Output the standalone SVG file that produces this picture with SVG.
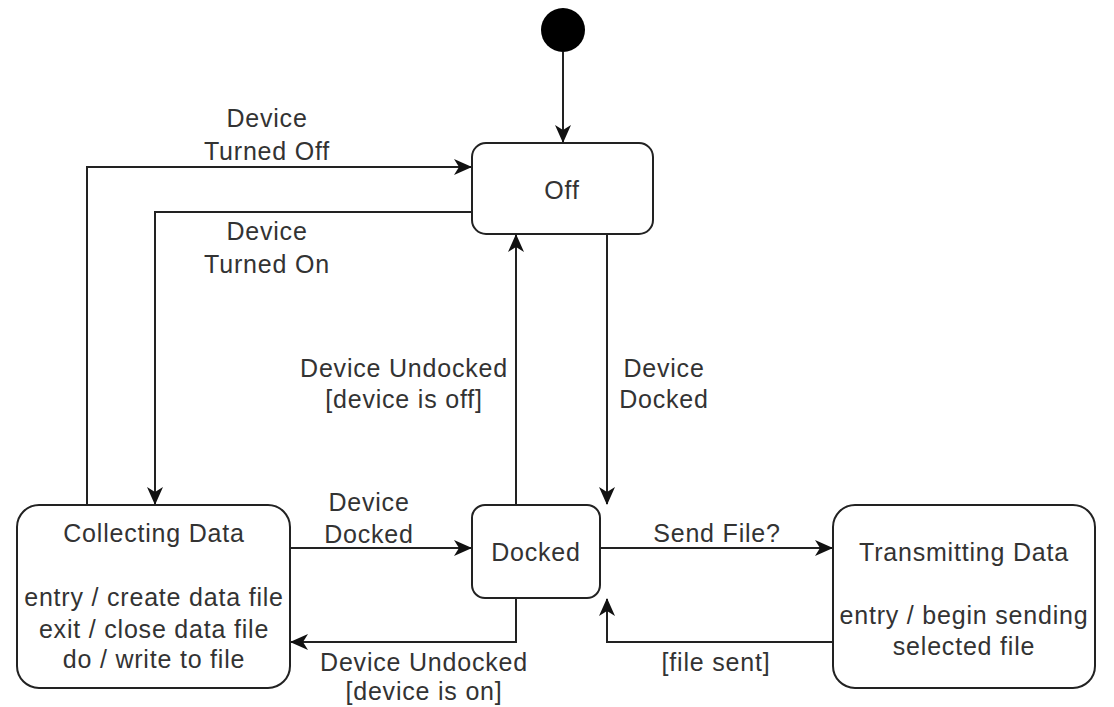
<svg xmlns="http://www.w3.org/2000/svg" width="1114" height="707" viewBox="0 0 1114 707">
  <style>
    .state { fill: #ffffff; stroke: #222222; stroke-width: 2; }
    .edge { fill: none; stroke: #222222; stroke-width: 2; }
    text { font-family: "Liberation Sans", Arial, sans-serif; font-size: 25px; letter-spacing: 0.8px; fill: #333333; text-anchor: middle; }
  </style>
  <defs>
    <marker id="arrow" viewBox="0 0 18 16" refX="17" refY="8" markerWidth="18" markerHeight="16" markerUnits="userSpaceOnUse" orient="auto">
      <path d="M0,0 L18,8 L0,16 L5,8 Z" fill="#111111"/>
    </marker>
  </defs>
  <rect width="1114" height="707" fill="#ffffff"/>

  <g id="connectors">
    <!-- initial -> Off -->
    <path class="edge" d="M563,52 L563,142" marker-end="url(#arrow)"/>
    <!-- Collecting Data -> Off -->
    <path class="edge" d="M87,505 L87,167 L471,167" marker-end="url(#arrow)"/>
    <!-- Off -> Collecting Data -->
    <path class="edge" d="M472,212 L155,212 L155,504" marker-end="url(#arrow)"/>
    <!-- Off -> Docked -->
    <path class="edge" d="M607,234 L607,504" marker-end="url(#arrow)"/>
    <!-- Docked -> Off -->
    <path class="edge" d="M516,505 L516,235" marker-end="url(#arrow)"/>
    <!-- Collecting Data -> Docked -->
    <path class="edge" d="M290,548 L471,548" marker-end="url(#arrow)"/>
    <!-- Docked -> Collecting Data -->
    <path class="edge" d="M516,598 L516,642 L291,642" marker-end="url(#arrow)"/>
    <!-- Docked -> Transmitting Data -->
    <path class="edge" d="M600,548 L832,548" marker-end="url(#arrow)"/>
    <!-- Transmitting Data -> Docked -->
    <path class="edge" d="M833,642 L607,642 L607,599" marker-end="url(#arrow)"/>

    <text x="267" y="127">Device</text>
    <text x="267" y="160">Turned Off</text>
    <text x="267" y="240">Device</text>
    <text x="267" y="273">Turned On</text>
    <text x="404" y="377">Device Undocked</text>
    <text x="404" y="408">[device is off]</text>
    <text x="664" y="377">Device</text>
    <text x="664" y="408">Docked</text>
    <text x="369" y="511">Device</text>
    <text x="369" y="543">Docked</text>
    <text x="424" y="671">Device Undocked</text>
    <text x="424" y="700">[device is on]</text>
    <text x="717" y="542">Send File?</text>
    <text x="716" y="671">[file sent]</text>
  </g>

  <g id="initial">
    <circle cx="563" cy="30" r="22" fill="#000000"/>
  </g>

  <g id="off">
    <rect class="state" x="472" y="143" width="181" height="91" rx="14"/>
    <text x="562" y="199">Off</text>
  </g>

  <g id="collecting-data">
    <rect class="state" x="17" y="505" width="273" height="183" rx="22"/>
    <text x="154" y="542">Collecting Data</text>
    <text x="154" y="606">entry / create data file</text>
    <text x="154" y="638">exit / close data file</text>
    <text x="154" y="668">do / write to file</text>
  </g>

  <g id="docked">
    <rect class="state" x="472" y="505" width="128" height="93" rx="13"/>
    <text x="536" y="561">Docked</text>
  </g>

  <g id="transmitting-data">
    <rect class="state" x="833" y="505" width="262" height="183" rx="22"/>
    <text x="964" y="561">Transmitting Data</text>
    <text x="964" y="624">entry / begin sending</text>
    <text x="964" y="655">selected file</text>
  </g>
</svg>
